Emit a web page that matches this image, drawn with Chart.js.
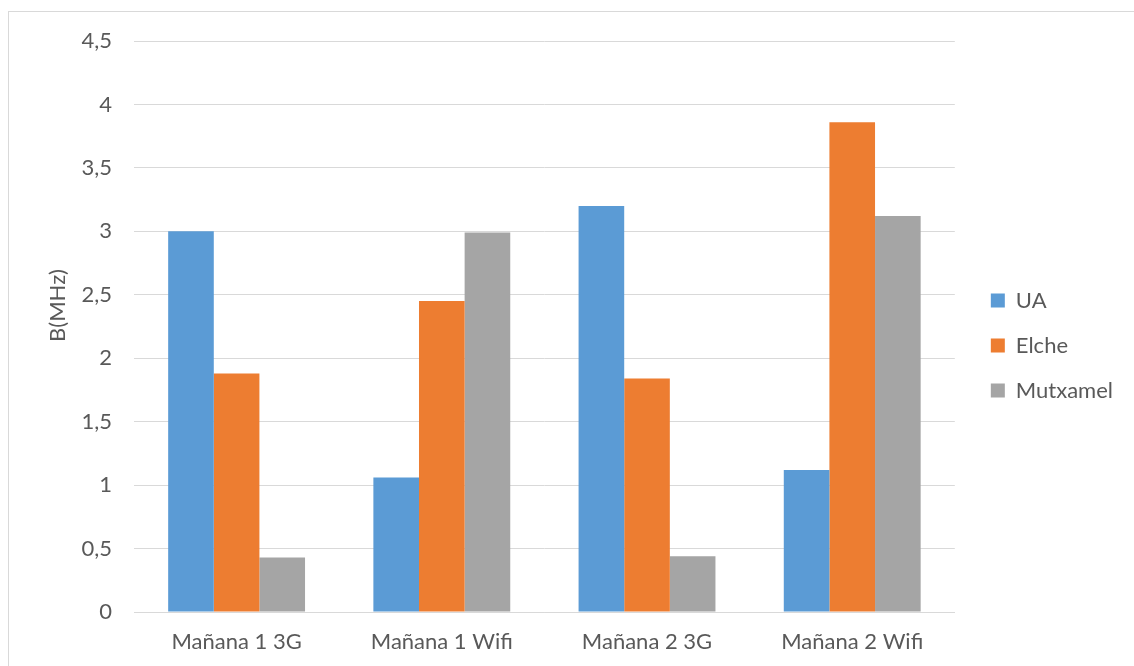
<!DOCTYPE html>
<html>
<head>
<meta charset="utf-8">
<script src="https://cdn.jsdelivr.net/npm/chart.js@4/dist/chart.umd.min.js"></script>
<style>
  body { margin: 0; background: #fff; overflow: hidden; }
  #box {
    position: absolute; left: 8px; top: 11px;
    width: 1140px; height: 670px;
    border: 1px solid #d9d9d9;
  }
  #wrap { position: absolute; left: 0; top: 0; width: 1124px; height: 654px; }
</style>
</head>
<body>
<div id="box"><div id="wrap"><canvas id="myChart"></canvas></div></div>
<script>
const categories = ['Mañana 1 3G', 'Mañana 1 Wifi', 'Mañana 2 3G', 'Mañana 2 Wifi'];
const ua = [3.0, 1.06, 3.2, 1.12];
const elche = [1.88, 2.45, 1.84, 3.86];
const mutxamel = [0.43, 2.99, 0.44, 3.12];
const yTitle = 'B(MHz)';

const txt = '#595959';
const grid = '#d9d9d9';
const fnt = 'Lato';

// titolo asse y disegnato a mano (Excel lo mette un po' più in alto)
const yTitlePlugin = {
    id: 'yTitle',
    afterDraw(chart) {
        const c = chart.ctx;
        const a = chart.chartArea;
        c.save();
        c.translate(49, (a.top + a.bottom) / 2 - 21);
        c.rotate(-Math.PI / 2);
        c.font = '22px ' + fnt;
        c.fillStyle = txt;
        c.textAlign = 'center';
        c.textBaseline = 'middle';
        c.fillText(yTitle, 0, 0);
        c.restore();
    }
};

const ctx = document.getElementById('myChart').getContext('2d');
const myChart = new Chart(ctx, {
    type: 'bar',
    data: {
        labels: categories,
        datasets: [
            { label: 'UA', data: ua, backgroundColor: '#5b9bd5' },
            { label: 'Elche', data: elche, backgroundColor: '#ed7d31' },
            { label: 'Mutxamel', data: mutxamel, backgroundColor: '#a5a5a5' }
        ]
    },
    options: {
        responsive: true,
        maintainAspectRatio: false,
        animation: false,
        datasets: {
            bar: { categoryPercentage: 0.667, barPercentage: 1.0 }
        },
        layout: { padding: { top: 29, right: 10, left: 0, bottom: 16 } },
        scales: {
            x: {
                grid: { display: false, drawTicks: false },
                border: { display: true, color: grid, width: 1 },
                ticks: { color: txt, font: { family: fnt, size: 22 }, padding: 17, maxRotation: 0 },
                afterFit: s => { s.height = 38; }
            },
            y: {
                min: 0,
                max: 4.5,
                grid: { color: grid, lineWidth: 1, drawTicks: false },
                border: { display: false },
                ticks: {
                    stepSize: 0.5,
                    color: txt,
                    padding: 22,
                    font: { family: fnt, size: 22 },
                    callback: v => String(v).replace('.', ',')
                },
                afterFit: s => { s.width = 125; s.paddingTop = 0; s.paddingBottom = 0; }
            },
            // asse vuoto a destra, serve solo a lasciare spazio prima della legenda
            spacer: {
                type: 'linear',
                position: 'right',
                min: 0,
                max: 1,
                grid: { display: false, drawTicks: false },
                border: { display: false },
                ticks: { display: false },
                afterFit: s => { s.width = 13; s.paddingTop = 0; s.paddingBottom = 0; }
            }
        },
        plugins: {
            legend: {
                position: 'right',
                labels: {
                    color: txt,
                    font: { family: fnt, size: 22 },
                    boxWidth: 14,
                    boxHeight: 14,
                    padding: 23
                }
            },
            tooltip: { enabled: false }
        }
    },
    plugins: [yTitlePlugin]
});
</script>
</body>
</html>
